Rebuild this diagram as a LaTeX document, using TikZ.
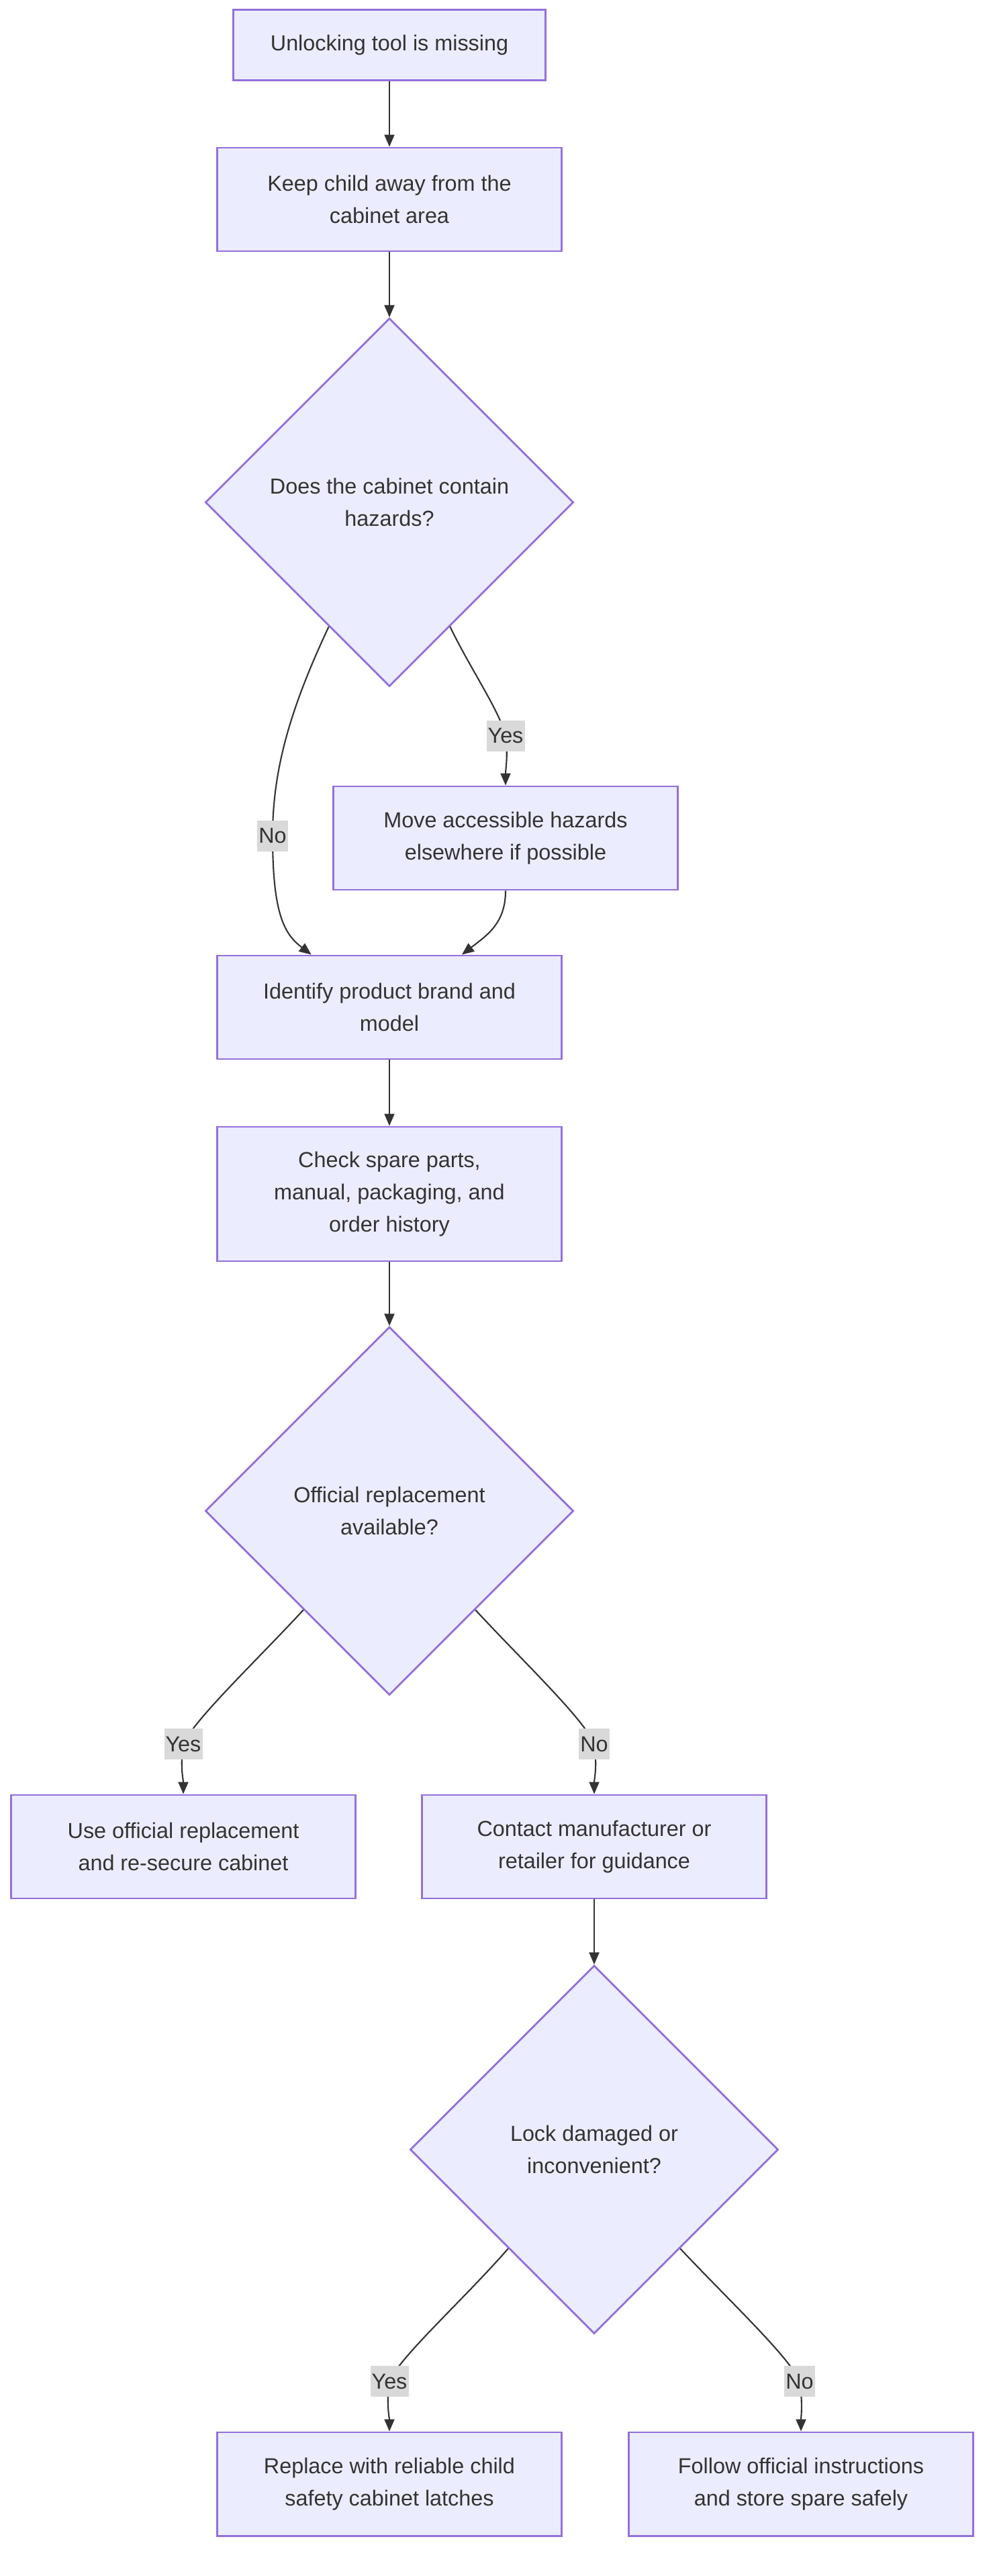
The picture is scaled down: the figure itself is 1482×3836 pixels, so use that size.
\documentclass[tikz,border=0pt]{standalone}
\usepackage{fontspec}
\setmainfont{Liberation Sans}
\usetikzlibrary{shapes.geometric,arrows.meta}

\definecolor{boxfill}{HTML}{ECECFF}
\definecolor{boxline}{HTML}{9370DB}
\definecolor{ink}{HTML}{333333}
\definecolor{lblfill}{HTML}{D9D9D9}

\tikzset{
  txt/.style={text=ink, align=center, font=\fontsize{9.2}{13.6}\selectfont},
  box/.style={txt, rectangle, draw=boxline, fill=boxfill, line width=0.8pt,
    minimum width=5.13cm, minimum height=1.54cm, inner sep=0pt},
  decision/.style={txt, diamond, aspect=1, draw=boxline, fill=boxfill, line width=0.8pt,
    minimum width=5.48cm, minimum height=5.48cm, inner sep=0pt},
  edge/.style={draw=ink, line width=0.6pt, -{Triangle[length=0.18cm,width=0.15cm]}},
  lbl/.style={txt, fill=lblfill, inner xsep=0.6pt, inner ysep=0pt, minimum height=0.46cm}
}

\begin{document}
\begin{tikzpicture}[x=0.01cm, y=-0.01cm]
\useasboundingbox (0,0) rectangle (1482,3836);

% top of the chart
\node[box, minimum width=4.65cm, minimum height=1.05cm] (missing) at (580,67) {Unlocking tool is missing};
\node[box] (keepaway) at (580,297) {Keep child away from the\\cabinet area};
\node[decision] (hazards) at (580,748) {Does the cabinet contain\\hazards?};
\node[box] (movehaz) at (753,1248) {Move accessible hazards\\elsewhere if possible};
\node[box] (brand) at (580,1500) {Identify product brand and\\model};
\node[box, minimum height=2.0cm] (spares) at (580,1778) {Check spare parts,\\manual, packaging, and\\order history};

% official part or not
\node[decision] (official) at (580,2250) {Official replacement\\available?};
\node[box] (useoff) at (273,2750) {Use official replacement\\and re-secure cabinet};
\node[box] (contact) at (885,2750) {Contact manufacturer or\\retailer for guidance};
\node[decision] (damaged) at (885,3201) {Lock damaged or\\inconvenient?};
\node[box] (latches) at (580,3699) {Replace with reliable child\\safety cabinet latches};
\node[box] (storesp) at (1193,3699) {Follow official instructions\\and store spare safely};

\foreach \a/\b in {missing/keepaway, keepaway/hazards, brand/spares, spares/official, contact/damaged}
  \draw[edge] (\a) -- (\b);

\draw[edge] (hazards.296) .. controls (700,995) and (745,1060) .. (753,1096) node[lbl] {Yes}
  .. controls (757,1125) and (753,1145) .. (movehaz.north);
\draw[edge] (hazards.244) .. controls (430,1060) and (406,1150) .. (406,1245) node[lbl] {No}
  .. controls (406,1365) and (425,1392) .. (brand.146);
\draw[edge] (movehaz.south) .. controls (753,1375) and (725,1393) .. (brand.36);

\draw[edge] (official.229) .. controls (380,2475) and (290,2560) .. (273,2597) node[lbl] {Yes}
  .. controls (268,2630) and (273,2650) .. (useoff.north);
\draw[edge] (official.311) .. controls (780,2475) and (870,2560) .. (885,2597) node[lbl] {No}
  .. controls (890,2630) and (885,2650) .. (contact.north);

\draw[edge] (damaged.229) .. controls (690,3425) and (595,3510) .. (580,3546) node[lbl] {Yes}
  .. controls (575,3580) and (580,3600) .. (latches.north);
\draw[edge] (damaged.311) .. controls (1085,3425) and (1176,3510) .. (1191,3546) node[lbl] {No}
  .. controls (1196,3580) and (1193,3600) .. (storesp.north);

%\node at (740,20) {};
\end{tikzpicture}
\end{document}
